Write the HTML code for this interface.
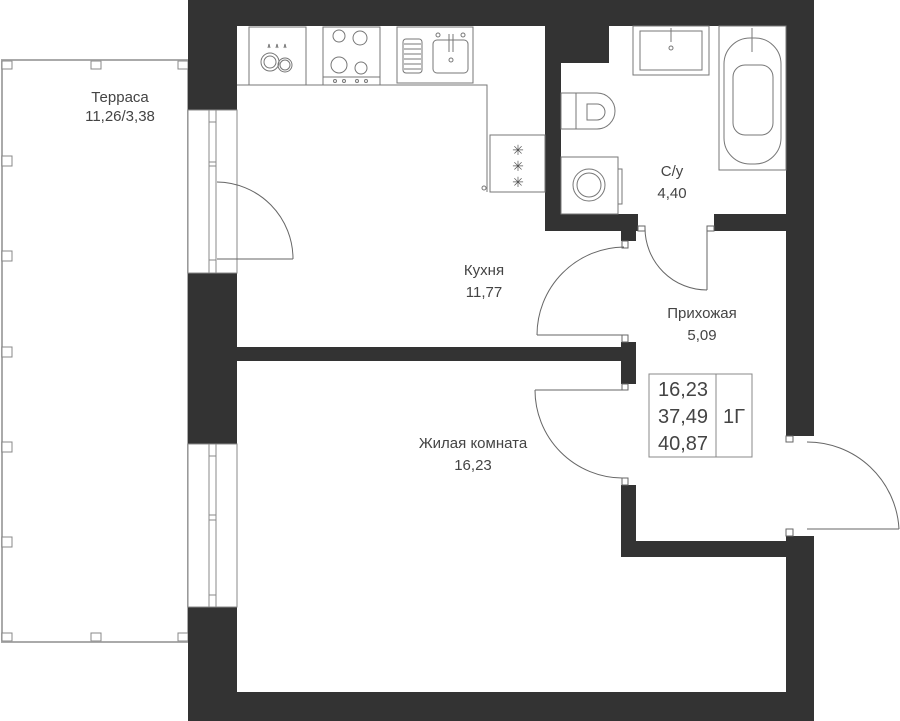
<!DOCTYPE html>
<html><head><meta charset="utf-8"><style>
html,body{margin:0;padding:0;background:#fff;}
svg{display:block;}
text{font-family:"Liberation Sans",sans-serif;font-size:15px;fill:#444;text-anchor:middle;}
</style></head><body>
<svg width="900" height="721" viewBox="0 0 900 721" xmlns="http://www.w3.org/2000/svg">
<!-- terrace -->
<rect x="2" y="60" width="186" height="582" fill="#fff" stroke="#aaa" stroke-width="2"/>
<g fill="#fff" stroke="#888" stroke-width="1">
<rect x="2" y="61" width="10" height="8"/><rect x="91" y="61" width="10" height="8"/><rect x="178" y="61" width="10" height="8"/>
<rect x="2" y="633" width="10" height="8"/><rect x="91" y="633" width="10" height="8"/><rect x="178" y="633" width="10" height="8"/>
<rect x="2" y="156" width="10" height="10"/><rect x="2" y="251" width="10" height="10"/><rect x="2" y="347" width="10" height="10"/>
<rect x="2" y="442" width="10" height="10"/><rect x="2" y="537" width="10" height="10"/>
</g>
<!-- walls -->
<g fill="#333">
<rect x="188" y="0" width="626" height="26"/>
<rect x="188" y="0" width="49" height="110"/>
<rect x="188" y="273" width="49" height="171"/>
<rect x="188" y="607" width="49" height="114"/>
<rect x="188" y="692" width="626" height="29"/>
<rect x="786" y="0" width="28" height="436"/>
<rect x="786" y="536" width="28" height="185"/>
<rect x="545" y="26" width="16" height="205"/>
<rect x="545" y="26" width="64" height="37"/>
<rect x="545" y="214" width="93" height="17"/>
<rect x="621" y="231" width="15" height="10"/>
<rect x="714" y="214" width="100" height="17"/>
<rect x="237" y="347" width="390" height="14"/>
<rect x="621" y="342" width="15" height="42"/>
<rect x="621" y="485" width="15" height="72"/>
<rect x="621" y="541" width="180" height="16"/>
</g>
<!-- windows -->
<g fill="#fff" stroke="#888" stroke-width="1">
<rect x="188" y="110" width="49" height="163"/>
<rect x="209" y="110" width="7" height="163"/>
<rect x="188" y="444" width="49" height="163"/>
<rect x="209" y="444" width="7" height="163"/>
</g>
<g stroke="#888" stroke-width="1" fill="none">
<path d="M209 122h7M209 162h7M209 166h7M209 260h7M209 456h7M209 515h7M209 520h7M209 595h7"/>
</g>
<!-- doors -->
<g stroke="#666" stroke-width="1" fill="none">
<path d="M217 259H293M217 182A77 77 0 0 1 293 259"/>
<path d="M537 335H622M537 335A88 88 0 0 1 624 247"/>
<path d="M707 228V290M645 228A62 62 0 0 0 707 290"/>
<path d="M535 390H622M535 390A88 88 0 0 0 622 478"/>
<path d="M807 529H899M807 442A92 92 0 0 1 899 529"/>
<rect x="622" y="241" width="6" height="7"/>
<rect x="638" y="226" width="7" height="5"/><rect x="707" y="226" width="7" height="5"/>
<rect x="622" y="335" width="6" height="7"/><rect x="622" y="384" width="6" height="6"/>
<rect x="622" y="478" width="6" height="7"/>
<rect x="786" y="436" width="7" height="6"/><rect x="786" y="529" width="7" height="7"/>
</g>
<!-- kitchen -->
<g stroke="#777" stroke-width="1" fill="none">
<path d="M237 85H487V192"/>
<rect x="249" y="27" width="57" height="58"/>
<rect x="323" y="27" width="57" height="58"/><path d="M323 77H380"/>
<circle cx="339" cy="36" r="6"/><circle cx="360" cy="38" r="7"/><circle cx="339" cy="65" r="8"/><circle cx="361" cy="68" r="6"/>
<circle cx="335" cy="81" r="1.5"/><circle cx="344" cy="81" r="1.5"/><circle cx="357" cy="81" r="1.5"/><circle cx="366" cy="81" r="1.5"/>
<circle cx="270" cy="62" r="9"/><circle cx="270" cy="62" r="6"/><circle cx="285" cy="65" r="7"/><circle cx="285" cy="65" r="5"/>
<path d="M268 48l1-4 1 4M276 48l1-4 1 4M284 48l1-4 1 4"/>
<rect x="397" y="27" width="76" height="56"/>
<rect x="403" y="39" width="19" height="34" rx="3"/>
<path d="M404 44h17M404 49h17M404 54h17M404 59h17M404 64h17M404 69h17"/>
<rect x="433" y="40" width="35" height="33" rx="4"/>
<path d="M449 34v18M453 34v18"/><circle cx="451" cy="60" r="2"/>
<circle cx="438" cy="35" r="2"/><circle cx="463" cy="35" r="2"/>
<rect x="490" y="135" width="55" height="57"/>
<circle cx="484" cy="188" r="2"/>
</g>
<text x="518" y="155" style="font-size:14px;fill:#555">✳</text>
<text x="518" y="171" style="font-size:14px;fill:#555">✳</text>
<text x="518" y="187" style="font-size:14px;fill:#555">✳</text>
<!-- bathroom -->
<g stroke="#777" stroke-width="1" fill="none">
<rect x="633" y="26" width="76" height="49"/>
<rect x="640" y="31" width="62" height="39"/>
<path d="M671 28v14"/><circle cx="671" cy="48" r="2"/>
<rect x="719" y="26" width="67" height="144"/>
<rect x="724" y="38" width="57" height="126" rx="26"/>
<rect x="733" y="65" width="40" height="70" rx="12"/>
<path d="M752 28v24"/>
<rect x="561" y="93" width="15" height="36"/>
<path d="M576 93h21a18 18 0 0 1 0 36h-21z"/>
<path d="M587 104h10a8 8 0 0 1 0 16h-10z"/>
<rect x="561" y="157" width="57" height="57"/>
<rect x="618" y="169" width="4" height="35"/>
<circle cx="589" cy="185" r="16"/><circle cx="589" cy="185" r="12"/>
</g>
<!-- info box -->
<g stroke="#888" stroke-width="1" fill="none">
<rect x="649" y="374" width="103" height="83"/><path d="M716 374V457"/>
</g>
<g style="font-size:20px">
<text x="683" y="396" style="font-size:20px">16,23</text>
<text x="683" y="423" style="font-size:20px">37,49</text>
<text x="683" y="450" style="font-size:20px">40,87</text>
<text x="734" y="423" style="font-size:20px">1Г</text>
</g>
<text x="120" y="102">Терраса</text><text x="120" y="121">11,26/3,38</text>
<text x="484" y="275">Кухня</text><text x="484" y="297">11,77</text>
<text x="672" y="176">С/у</text><text x="672" y="198">4,40</text>
<text x="702" y="318">Прихожая</text><text x="702" y="340">5,09</text>
<text x="473" y="448">Жилая комната</text><text x="473" y="470">16,23</text>
</svg>
</body></html>
